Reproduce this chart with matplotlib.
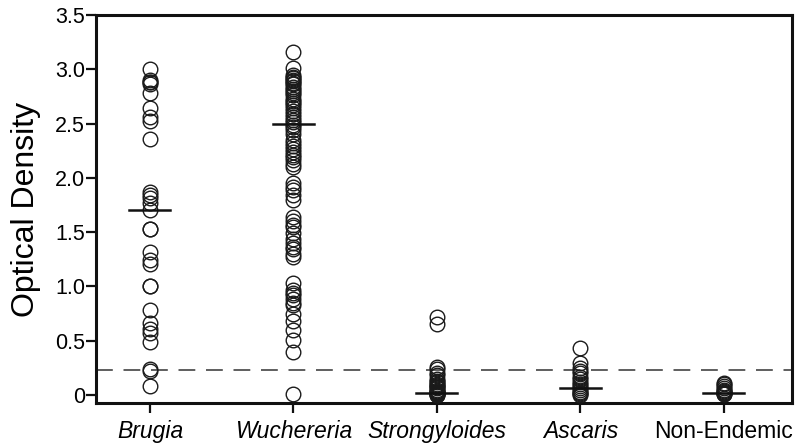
import matplotlib
matplotlib.use("Agg")
import matplotlib.pyplot as plt
import numpy as np

plt.rcParams['font.family'] = ['Liberation Sans', 'DejaVu Sans']

categories = ["Brugia", "Wuchereria", "Strongyloides", "Ascaris", "Non-Endemic"]
italic_flags = [True, True, True, True, False]

brugia = [3.00, 2.90, 2.88, 2.88, 2.86, 2.78, 2.64, 2.56, 2.52, 2.36,
          1.87, 1.84, 1.81, 1.77, 1.70, 1.53, 1.53, 1.32, 1.24, 1.21,
          1.00, 1.00, 0.78, 0.66, 0.61, 0.57, 0.49, 0.24, 0.22, 0.08]
wuchereria = [3.16, 3.01, 2.95, 2.93, 2.92, 2.90, 2.89, 2.87, 2.86, 2.84,
              2.82, 2.80, 2.78, 2.76, 2.73, 2.71, 2.69, 2.67, 2.64, 2.62,
              2.59, 2.56, 2.53, 2.51, 2.49, 2.47, 2.44, 2.40, 2.35, 2.32,
              2.29, 2.27, 2.24, 2.21, 2.19, 2.16, 2.13, 2.10, 1.95, 1.92,
              1.89, 1.84, 1.80, 1.64, 1.60, 1.57, 1.55, 1.49, 1.44, 1.40,
              1.36, 1.34, 1.30, 1.27, 1.03, 0.97, 0.94, 0.92, 0.88, 0.85,
              0.83, 0.75, 0.68, 0.60, 0.51, 0.40, 0.01]
strongyloides = [0.72, 0.65, 0.26, 0.24, 0.20, 0.18, 0.15, 0.13, 0.12, 0.10,
                 0.09, 0.08, 0.07, 0.06, 0.05, 0.04, 0.03, 0.03, 0.02, 0.02,
                 0.01, 0.01, 0.00, 0.00]
ascaris = [0.43, 0.29, 0.25, 0.22, 0.20, 0.17, 0.15, 0.12, 0.10, 0.08,
           0.06, 0.05, 0.03, 0.02, 0.01, 0.00]
non_endemic = [0.11, 0.10, 0.08, 0.06, 0.05, 0.04, 0.03, 0.02, 0.02, 0.01, 0.01]
medians = [1.70, 2.50, 0.02, 0.065, 0.02]
cutoff = 0.23

series = [brugia, wuchereria, strongyloides, ascaris, non_endemic]
yticks = [0, 0.5, 1.0, 1.5, 2.0, 2.5, 3.0, 3.5]
ytick_labels = ["0", "0.5", "1.0", "1.5", "2.0", "2.5", "3.0", "3.5"]

fig = plt.figure(figsize=(8, 4.45), dpi=100)
ax = fig.add_axes([0.12, 0.0944, 0.87, 0.8719])

for i, vals in enumerate(series):
    ax.plot(np.full(len(vals), i), vals, linestyle='none', marker='o',
            markersize=10.5, markerfacecolor='none', markeredgecolor='#1a1a1a',
            markeredgewidth=1.0, zorder=3)
    ax.plot([i - 0.143, i + 0.143], [medians[i], medians[i]], color='#111111',
            linewidth=1.8, zorder=4)

ax.axhline(cutoff, color='#333333', linewidth=1.1, dashes=(11, 7), zorder=2)

ax.set_xlim(-0.376, 4.474)
ax.set_ylim(-0.074, 3.5)
ax.set_xticks(range(len(categories)))
ax.set_xticklabels(categories, fontsize=16.5)
for lbl, it in zip(ax.get_xticklabels(), italic_flags):
    lbl.set_fontstyle('italic' if it else 'normal')
ax.set_yticks(yticks)
ax.set_yticklabels(ytick_labels, fontsize=15.5)
ax.set_ylabel("Optical Density", fontsize=23, labelpad=10)

for sp in ax.spines.values():
    sp.set_linewidth(2.2)
    sp.set_color('#111111')
ax.tick_params(axis='both', direction='out', length=7, width=1.6, color='#111111')
ax.tick_params(axis='x', pad=5)
ax.tick_params(axis='y', pad=1)

fig.savefig("out.png", dpi=100)
